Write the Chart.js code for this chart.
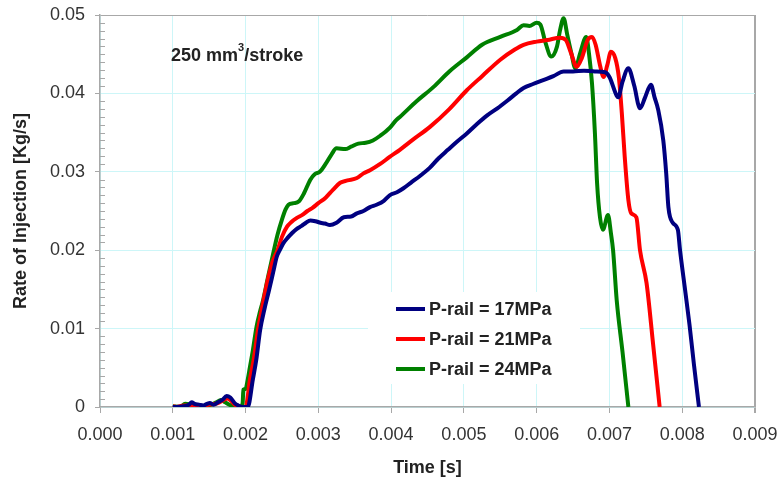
<!DOCTYPE html>
<html>
<head>
<meta charset="utf-8">
<script src="https://cdn.jsdelivr.net/npm/chart.js@4.4.1/dist/chart.umd.min.js"></script>
<style>
  body { margin: 0; background: #fff; }
</style>
</head>
<body>
<canvas id="injectionChart" width="779" height="483"></canvas>
<script>
// time [s] and rate of injection [kg/s]
const t17 = [0.001, 0.00105, 0.00115, 0.00122, 0.00126, 0.0013, 0.00136, 0.00142, 0.00147, 0.00151, 0.00156, 0.00162, 0.00168, 0.00174, 0.00179, 0.00185, 0.0019, 0.00196, 0.00203,
  0.0021, 0.00215, 0.0022, 0.00226, 0.00232, 0.00238, 0.00243, 0.00247, 0.00252, 0.00258, 0.00264, 0.0027, 0.00277, 0.00283, 0.00289, 0.00296, 0.00303, 0.00309, 0.00316,
  0.00325, 0.00335, 0.00345, 0.00353, 0.00362, 0.00371, 0.0038, 0.0039, 0.00398, 0.00408, 0.00417, 0.00427, 0.0044, 0.00453, 0.00465, 0.00478, 0.0049, 0.00504, 0.00518,
  0.00532, 0.00546, 0.0056, 0.00572, 0.00582, 0.00595, 0.00609, 0.00623, 0.00637, 0.0065, 0.00665, 0.0068, 0.00694, 0.007, 0.0071, 0.00712, 0.00718, 0.00726, 0.00734,
  0.00742, 0.00749, 0.00757, 0.00762, 0.00767, 0.00774, 0.00778, 0.00781, 0.00787, 0.00794, 0.00797, 0.00804, 0.0081, 0.00816, 0.00823];
const q17 = [0, 0, 0.0001, 0.0003, 0.0006, 0.0004, 0.0003, 0.0002, 0.0004, 0.0005, 0.0003, 0.0006, 0.0009, 0.0014, 0.0012, 0.0005, 0.0002, 0, 0,
  0.0035, 0.0062, 0.0098, 0.0125, 0.0148, 0.0172, 0.0192, 0.02, 0.0209, 0.0216, 0.0222, 0.0227, 0.0231, 0.0235, 0.0238, 0.0237, 0.0235, 0.0234, 0.0232,
  0.0235, 0.0242, 0.0243, 0.0247, 0.025, 0.0255, 0.0258, 0.0263, 0.027, 0.0274, 0.0279, 0.0286, 0.0295, 0.0305, 0.0317, 0.0328, 0.0338, 0.0349, 0.0361,
  0.0372, 0.0381, 0.0391, 0.04, 0.0407, 0.0412, 0.0417, 0.0422, 0.0428, 0.0428, 0.0429, 0.0428, 0.0427, 0.0421, 0.0397, 0.0395, 0.0415, 0.0432, 0.041,
  0.0381, 0.0395, 0.0411, 0.0395, 0.0379, 0.034, 0.0298, 0.0255, 0.0235, 0.0226, 0.02, 0.0149, 0.0105, 0.0055, 0];

const t21 = [0.001, 0.00105, 0.00115, 0.0013, 0.0014, 0.0015, 0.00162, 0.0017, 0.00175, 0.0018, 0.00185, 0.00195, 0.002,
  0.00206, 0.00212, 0.00217, 0.00223, 0.0023, 0.00237, 0.00244, 0.0025, 0.00257, 0.00263, 0.0027, 0.00278, 0.00285, 0.00292, 0.003, 0.0031, 0.0032, 0.0033, 0.0034,
  0.00353, 0.00362, 0.00371, 0.00385, 0.00398, 0.00412, 0.0043, 0.00453, 0.0048, 0.00504, 0.00525, 0.0055, 0.0057, 0.00582, 0.006, 0.00615, 0.00632, 0.0064,
  0.00647, 0.00655, 0.00662, 0.0067, 0.00676, 0.00681, 0.00687, 0.00692, 0.00697, 0.00702, 0.00708, 0.00713, 0.00717, 0.00721, 0.00726, 0.0073, 0.00737, 0.00742,
  0.00751, 0.0076, 0.00769];
const q21 = [0.0001, 0, 0.0002, 0.0002, 0.0001, 0.0003, 0.0005, 0.0009, 0.0011, 0.0008, 0.0003, 0, 0,
  0.0035, 0.0065, 0.0098, 0.0128, 0.016, 0.0185, 0.02, 0.0217, 0.023, 0.0236, 0.0241, 0.0245, 0.025, 0.0254, 0.026, 0.0267, 0.0277, 0.0286, 0.0289,
  0.0292, 0.0298, 0.0302, 0.031, 0.0319, 0.0328, 0.0341, 0.0357, 0.038, 0.0404, 0.0422, 0.0443, 0.0456, 0.0462, 0.0466, 0.0468, 0.0471, 0.0468,
  0.0452, 0.0434, 0.0445, 0.0468, 0.0472, 0.0462, 0.0436, 0.0421, 0.0436, 0.0453, 0.0445, 0.042, 0.0375, 0.0319, 0.0264, 0.0247, 0.0242, 0.02,
  0.0158, 0.008, 0];

const t24 = [0.001, 0.0011, 0.00117, 0.00125, 0.00135, 0.0015, 0.0016, 0.00166, 0.00172, 0.0018, 0.00193, 0.00196, 0.00197, 0.002, 0.00203, 0.00206, 0.0021,
  0.00215, 0.0022, 0.00224, 0.0023, 0.00238, 0.00244, 0.0025, 0.00255, 0.00259, 0.00266, 0.00273, 0.0028, 0.00289, 0.00295, 0.00302, 0.0031, 0.00318, 0.00325,
  0.00337, 0.00345, 0.00355, 0.00365, 0.00375, 0.00385, 0.00398, 0.00407, 0.00412, 0.00435, 0.00458, 0.0048, 0.00504, 0.00525, 0.0055, 0.00573, 0.00582, 0.0059,
  0.006, 0.00605, 0.00612, 0.0062, 0.00628, 0.00632, 0.00637, 0.00642, 0.00648, 0.00653, 0.0066, 0.00668, 0.00672, 0.00676, 0.0068, 0.00683, 0.00687, 0.00691,
  0.00698, 0.00702, 0.00705, 0.0071, 0.00718, 0.00726];
const q24 = [0.0001, 0, 0.0004, 0.0003, 0.0001, 0.0002, 0.0006, 0.0009, 0.0006, 0.0002, 0, 0.0005, 0.0022, 0.0023, 0.0035, 0.0051, 0.0072,
  0.0102, 0.0122, 0.0136, 0.0162, 0.0196, 0.022, 0.0239, 0.0252, 0.0258, 0.026, 0.0262, 0.0272, 0.029, 0.0297, 0.03, 0.031, 0.0322, 0.033,
  0.0329, 0.0332, 0.0336, 0.0337, 0.034, 0.0346, 0.0356, 0.0366, 0.037, 0.039, 0.0408, 0.0428, 0.0446, 0.0462, 0.0472, 0.0481, 0.0487, 0.0486,
  0.049, 0.0488, 0.0465, 0.0447, 0.046, 0.048, 0.0496, 0.0475, 0.045, 0.0432, 0.0452, 0.0472, 0.045, 0.0413, 0.035, 0.0286, 0.0242, 0.0226,
  0.0245, 0.0222, 0.02, 0.0136, 0.007, 0];

const seriesNames = ["P-rail = 17MPa", "P-rail = 21MPa", "P-rail = 24MPa"];
const seriesColors = ["#000080", "#ff0000", "#008000"];
const xTicks = [0, 0.001, 0.002, 0.003, 0.004, 0.005, 0.006, 0.007, 0.008, 0.009];
const yTicks = [0, 0.01, 0.02, 0.03, 0.04, 0.05];

const gridCyan = "#cdf6f8";
const frameGrey = "#a8a8a8";
const textColor = "#222";

function toPoints(ts, qs) {
    return ts.map((t, i) => ({ x: t, y: qs[i] }));
}

// keep the plot box where the layout padding puts it
function noOverhang(scale) {
    scale.paddingTop = 0;
    scale.paddingBottom = 0;
    scale.paddingLeft = 0;
    scale.paddingRight = 0;
}

// legend box, minor ticks and the "250 mm3/stroke" note
const extras = {
    id: "extras",
    beforeDatasetsDraw(chart) {
        const ctx = chart.ctx;
        const yScale = chart.scales.y;
        const area = chart.chartArea;

        ctx.save();
        ctx.strokeStyle = frameGrey;
        ctx.lineWidth = 1;
        for (let i = 1; i < 50; i++) {
            if (i % 10 == 0) continue;
            const y = Math.round(yScale.getPixelForValue(i / 1000)) + 0.5;
            ctx.beginPath();
            ctx.moveTo(area.left, y);
            ctx.lineTo(area.left + 5, y);
            ctx.stroke();
        }

        ctx.fillStyle = "#fff";
        ctx.fillRect(368, 292, 212, 92);

        ctx.font = "bold 18px 'Liberation Sans', Arial, sans-serif";
        ctx.textBaseline = "middle";
        ctx.textAlign = "left";
        const rows = [309, 339, 369];
        seriesNames.forEach((name, i) => {
            ctx.strokeStyle = seriesColors[i];
            ctx.lineWidth = 4;
            ctx.beginPath();
            ctx.moveTo(396, rows[i]);
            ctx.lineTo(425, rows[i]);
            ctx.stroke();
            ctx.fillStyle = textColor;
            ctx.fillText(name, 429, rows[i] + 1);
        });

        ctx.fillStyle = textColor;
        ctx.fillText("250 mm", 171, 56);
        let w = ctx.measureText("250 mm").width;
        ctx.font = "bold 11px 'Liberation Sans', Arial, sans-serif";
        ctx.fillText("3", 171 + w, 48);
        let w3 = ctx.measureText("3").width;
        ctx.font = "bold 18px 'Liberation Sans', Arial, sans-serif";
        ctx.fillText("/stroke", 171 + w + w3, 56);
        ctx.restore();
    }
};

const datasets = [
    { label: seriesNames[0], data: toPoints(t17, q17) },
    { label: seriesNames[1], data: toPoints(t21, q21) },
    { label: seriesNames[2], data: toPoints(t24, q24) }
].map((ds, i) => Object.assign(ds, {
    borderColor: seriesColors[i],
    backgroundColor: seriesColors[i],
    borderWidth: 4,
    pointRadius: 0,
    fill: false,
    showLine: true,
    cubicInterpolationMode: "monotone"
}));

new Chart(document.getElementById("injectionChart"), {
    type: "scatter",
    data: { datasets: datasets },
    options: {
        responsive: false,
        animation: false,
        devicePixelRatio: 1,
        layout: { padding: { left: 0, right: 24, top: 15, bottom: 0 } },
        plugins: {
            legend: { display: false },
            tooltip: { enabled: false }
        },
        scales: {
            x: {
                type: "linear",
                min: 0,
                max: 0.009,
                afterFit: scale => { scale.height = 76; noOverhang(scale); },
                afterBuildTicks: scale => { scale.ticks = xTicks.map(v => ({ value: v })); },
                ticks: {
                    color: "#333",
                    font: { family: "'Liberation Sans', Arial, sans-serif", size: 18 },
                    padding: 11,
                    maxRotation: 0,
                    callback: v => v.toFixed(3)
                },
                grid: {
                    color: c => (c.tick && Math.abs(c.tick.value - 0.009) < 1e-9) ? frameGrey : gridCyan,
                    lineWidth: c => (c.tick && Math.abs(c.tick.value - 0.009) < 1e-9) ? 2 : 1,
                    tickColor: frameGrey,
                    tickLength: 6
                },
                border: { color: frameGrey, width: 1.5 },
                title: {
                    display: true,
                    text: "Time [s]",
                    color: textColor,
                    font: { family: "'Liberation Sans', Arial, sans-serif", size: 18, weight: "bold" },
                    padding: { top: 0, bottom: 4 }
                }
            },
            y: {
                min: 0,
                max: 0.05,
                afterFit: scale => { scale.width = 100; noOverhang(scale); },
                afterBuildTicks: scale => { scale.ticks = yTicks.map(v => ({ value: v })); },
                ticks: {
                    color: "#333",
                    font: { family: "'Liberation Sans', Arial, sans-serif", size: 18 },
                    padding: 10,
                    callback: v => Math.abs(v) < 1e-9 ? "0" : v.toFixed(2)
                },
                grid: {
                    color: c => (c.tick && Math.abs(c.tick.value - 0.05) < 1e-9) ? frameGrey : gridCyan,
                    tickColor: frameGrey,
                    tickLength: 5
                },
                border: { color: frameGrey, width: 1.5 },
                title: {
                    display: true,
                    text: "Rate of Injection [Kg/s]",
                    color: textColor,
                    font: { family: "'Liberation Sans', Arial, sans-serif", size: 18, weight: "bold" },
                    padding: { top: 10, bottom: 0 }
                }
            }
        }
    },
    plugins: [extras]
});
</script>
</body>
</html>
